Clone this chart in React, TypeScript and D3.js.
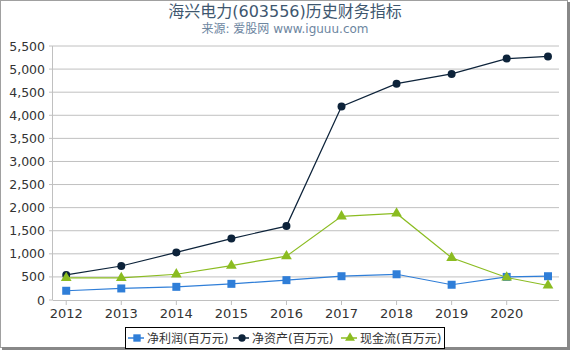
import { scaleLinear, line as d3line, symbol, symbolSquare, symbolCircle, symbolTriangle, format } from 'd3';

const YEARS = [2012, 2013, 2014, 2015, 2016, 2017, 2018, 2019, 2020, 2020.75];
const X_TICKS = [2012, 2013, 2014, 2015, 2016, 2017, 2018, 2019, 2020];
const Y_TICKS = [0, 500, 1000, 1500, 2000, 2500, 3000, 3500, 4000, 4500, 5000, 5500];

const NET_PROFIT = [200, 250, 285, 350, 430, 515, 557, 330, 500, 515];
const NET_ASSETS = [543, 736, 1030, 1330, 1600, 4190, 4685, 4895, 5227, 5275];
const CASH_FLOW = [480, 480, 557, 745, 950, 1812, 1875, 914, 487, 314];

const SERIES = [
  { name: '净利润(百万元)', values: NET_PROFIT, color: '#2f7ed8', shape: symbolSquare, size: 64 },
  { name: '净资产(百万元)', values: NET_ASSETS, color: '#0d233a', shape: symbolCircle, size: 50 },
  { name: '现金流(百万元)', values: CASH_FLOW, color: '#8bbc21', shape: symbolTriangle, size: 50 },
];

const W = 570;
const H = 350;
const M = { top: 46, right: 11, bottom: 50, left: 53 };
const FONT = '"DejaVu Sans", "Noto Sans CJK SC", sans-serif';

export default function App() {
  const x = scaleLinear().domain([2011.76, 2020.95]).range([M.left, W - M.right]);
  const y = scaleLinear().domain([0, 5500]).range([H - M.bottom, M.top]);
  const fmt = format(',');
  const legendX = [137, 242, 350];

  return (
    <svg
      width={W}
      height={H}
      style={{ position: 'absolute', left: 0, top: 0, fontFamily: FONT }}
    >
      <rect x={0} y={0} width={W} height={H} fill="#fff" />
      <rect x={0.5} y={0.5} width={W - 3} height={H - 3} fill="none" stroke="#a0a0a0" />
      <line x1={W - 1.5} y1={2} x2={W - 1.5} y2={H} stroke="#888" strokeWidth={3} />
      <line x1={2} y1={H - 1.5} x2={W} y2={H - 1.5} stroke="#888" strokeWidth={3} />

      <text x={285} y={17} textAnchor="middle" fontSize={16} fill="#3e576f">
        海兴电力(603556)历史财务指标
      </text>
      <text x={285} y={33} textAnchor="middle" fontSize={12} fill="#6d869f">
        来源: 爱股网 www.iguuu.com
      </text>

      {Y_TICKS.map((t) => (
        <g key={t}>
          {t > 0 && (
            <line x1={M.left} x2={W - M.right} y1={y(t)} y2={y(t)} stroke="#c0c0c0" />
          )}
          <line x1={M.left - 4} x2={M.left} y1={y(t)} y2={y(t)} stroke="#c0c0c0" />
          <text x={M.left - 8} y={y(t) + 4.5} textAnchor="end" fontSize={12.5} fill="#333">
            {fmt(t)}
          </text>
        </g>
      ))}
      <line x1={M.left - 0.5} x2={M.left - 0.5} y1={M.top} y2={H - M.bottom} stroke="#c0c0c0" />
      <line x1={M.left} x2={W - M.right} y1={H - M.bottom + 0.5} y2={H - M.bottom + 0.5} stroke="#c0c0c0" />
      {X_TICKS.map((t) => (
        <g key={t}>
          <line x1={x(t)} x2={x(t)} y1={H - M.bottom} y2={H - M.bottom + 5} stroke="#c0c0c0" />
          <text x={x(t)} y={H - M.bottom + 18} textAnchor="middle" fontSize={13} fill="#333">
            {t}
          </text>
        </g>
      ))}

      {SERIES.map((s) => {
        const pts = s.values.map((v, i) => [x(YEARS[i]), y(v)] as [number, number]);
        const sym = symbol().type(s.shape).size(s.size)();
        return (
          <g key={s.name}>
            <path d={d3line()(pts) ?? ''} fill="none" stroke={s.color} strokeWidth={1.2} />
            {pts.map(([px, py], i) => (
              <path key={i} d={sym ?? ''} transform={`translate(${px},${py})`} fill={s.color} />
            ))}
          </g>
        );
      })}

      <rect x={125.5} y={327.5} width={319} height={21} fill="#fff" stroke="#000" />
      {SERIES.map((s, i) => {
        const lx = legendX[i];
        const sym = symbol().type(s.shape).size(s.size * 0.85)();
        return (
          <g key={s.name}>
            <line x1={lx - 9} x2={lx + 7} y1={338} y2={338} stroke={s.color} strokeWidth={1.5} />
            <path d={sym ?? ''} transform={`translate(${lx},338)`} fill={s.color} />
            <text x={lx + 10} y={342.5} fontSize={12} fill="#333">
              {s.name}
            </text>
          </g>
        );
      })}
    </svg>
  );
}
